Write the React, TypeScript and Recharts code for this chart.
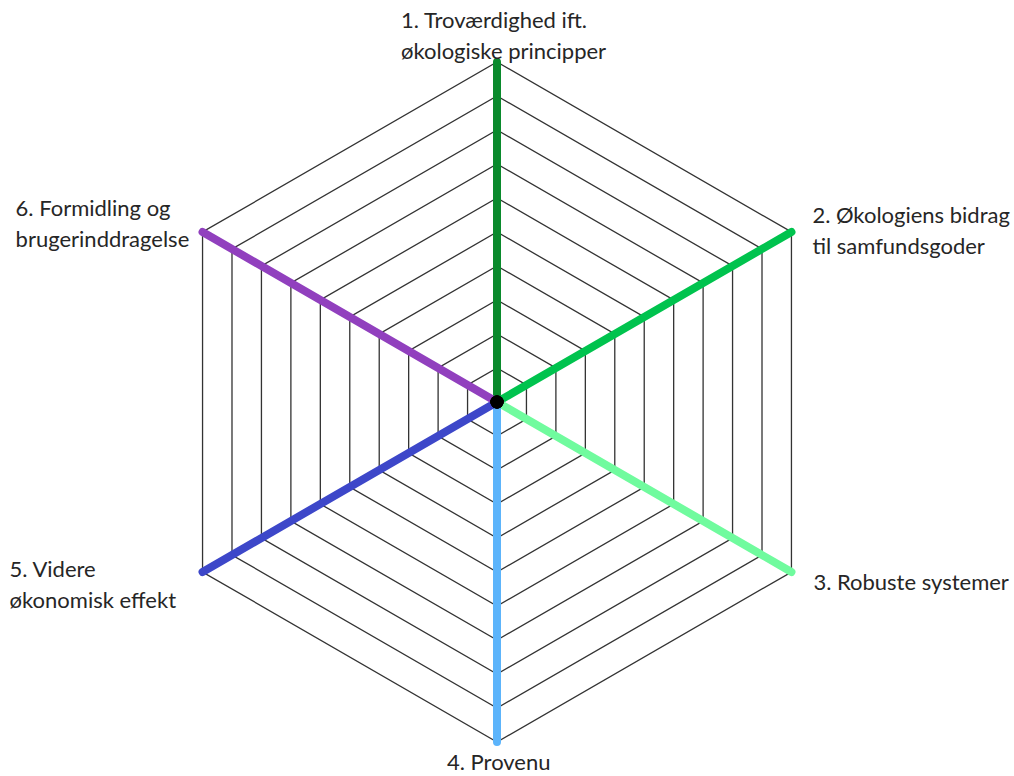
import {
  RadarChart,
  Radar,
  PolarGrid,
  PolarAngleAxis,
  PolarRadiusAxis,
} from "recharts";

// axis labels, clockwise from the top
const CATEGORIES = [
  "1. Troværdighed ift.\nøkologiske principper",
  "2. Økologiens bidrag\ntil samfundsgoder",
  "3. Robuste systemer",
  "4. Provenu",
  "5. Videre\nøkonomisk effekt",
  "6. Formidling og\nbrugerinddragelse",
];

// each axis has one full-length coloured spoke
const SPOKE_VALUES = [10, 10, 10, 10, 10, 10];

const SPOKE_COLORS = [
  "#0a8a2c", // dark green
  "#00c34e", // green
  "#70fb9e", // light green
  "#5cb4fb", // light blue
  "#3d47c9", // blue
  "#9140be", // purple
];

const SCALE_MAX = 10;
const RING_COUNT = 10;

// label placement relative to the tick point (left-aligned text)
const LABEL_OFFSETS = [
  { dx: -96, dy: -34 },
  { dx: 14, dy: -13 },
  { dx: 15, dy: 6 },
  { dx: -50, dy: 12 },
  { dx: -186, dy: -7 },
  { dx: -180, dy: -20 },
];

const data = CATEGORIES.map((axis, i) => {
  const row: Record<string, string | number> = { axis, center: 0 };
  SPOKE_VALUES.forEach((v, j) => {
    row[`s${j}`] = i === j ? v : 0;
  });
  return row;
});

function AxisLabel(props: any) {
  const { x, y, payload, index } = props;
  const off = LABEL_OFFSETS[index] || { dx: 0, dy: 0 };
  const lines = String(payload.value).split("\n");
  return (
    <text
      x={x + off.dx}
      y={y + off.dy}
      textAnchor="start"
      fill="#262626"
      fontSize={22}
      fontFamily="Lato, 'Open Sans', sans-serif"
    >
      {lines.map((line, k) => (
        <tspan key={k} x={x + off.dx} dy={k === 0 ? 8 : 31}>
          {line}
        </tspan>
      ))}
    </text>
  );
}

export default function App() {
  return (
    <div style={{ width: 1014, height: 776, background: "#fff" }}>
      <style>{"body{margin:0}"}</style>
      <RadarChart
        width={1014}
        height={776}
        data={data}
        cx={497}
        cy={402}
        outerRadius={340}
        margin={{ top: 0, right: 0, bottom: 0, left: 0 }}
      >
        <PolarGrid
          gridType="polygon"
          radialLines={false}
          stroke="#333"
          strokeWidth={1.3}
        />
        <PolarRadiusAxis
          domain={[0, SCALE_MAX]}
          tickCount={RING_COUNT + 1}
          tick={false}
          axisLine={false}
        />
        <PolarAngleAxis
          dataKey="axis"
          tick={<AxisLabel />}
          tickLine={false}
          axisLine={false}
        />
        {SPOKE_VALUES.map((_, j) => (
          <Radar
            key={j}
            dataKey={`s${j}`}
            stroke={SPOKE_COLORS[j]}
            strokeWidth={8}
            strokeLinejoin="round"
            fill="none"
            fillOpacity={0}
            dot={false}
            isAnimationActive={false}
          />
        ))}
        <Radar
          dataKey="center"
          stroke="none"
          fill="none"
          dot={{ r: 6.5, fill: "#000", stroke: "none" }}
          isAnimationActive={false}
        />
      </RadarChart>
    </div>
  );
}
